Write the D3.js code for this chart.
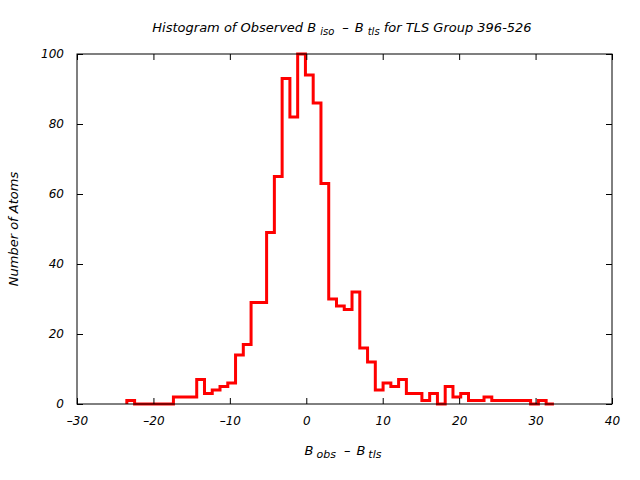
<!DOCTYPE html>
<html>
<head>
<meta charset="utf-8">
<script src="https://cdn.jsdelivr.net/npm/d3@7"></script>
<style>
  body { margin: 0; background: #fff; }
  text { font-family: "DejaVu Sans", sans-serif; font-style: italic; }
</style>
</head>
<body>
<div id="chart"></div>
<script>
// histogram bins: start of first bin, bin width, and atom counts per bin
const binStart = -23.48;
const binWidth = 1.016;
const counts = [1, 0, 0, 0, 0, 0, 2, 2, 2, 7, 3, 4, 5, 6, 14, 17, 29, 29, 49, 65,
  93, 82, 100, 94, 86, 63, 30, 28, 27, 32, 16, 12, 4, 6, 5, 7, 3, 3, 1, 3,
  0, 5, 2, 3, 1, 1, 2, 1, 1, 1, 1, 1, 0, 1, 0];
const xTicks = [-30, -20, -10, 0, 10, 20, 30, 40];
const yTicks = [0, 20, 40, 60, 80, 100];

const W = 640, H = 480;
const margin = { top: 54, right: 28, bottom: 76, left: 77 };
const width = W - margin.left - margin.right;
const height = H - margin.top - margin.bottom;

const svg = d3.select("#chart").append("svg")
    .attr("width", W)
    .attr("height", H);

const g = svg.append("g")
    .attr("transform", `translate(${margin.left},${margin.top})`);

const x = d3.scaleLinear().domain([-30, 40]).range([0, width]);
const y = d3.scaleLinear().domain([0, 100]).range([height, 0]);

// step outline of the histogram
const edges = counts.map((c, i) => binStart + i * binWidth);
edges.push(binStart + counts.length * binWidth);

let d = `M${x(edges[0])},${y(0)}`;
counts.forEach((c, i) => {
    d += `V${y(c)}H${x(edges[i + 1])}`;
});
d += `V${y(0)}`;

g.append("path")
    .attr("d", d)
    .attr("fill", "none")
    .attr("stroke", "#ff0000")
    .attr("stroke-width", 3)
    .attr("stroke-linejoin", "miter");

// axes (ticks point inward, mirrored on top and right)
const styleAxis = sel => {
    sel.select(".domain").remove();
    sel.selectAll(".tick line").attr("stroke", "#000");
    sel.selectAll("text").attr("font-size", 12).attr("fill", "#000")
        .attr("font-family", "DejaVu Sans").attr("font-style", "italic");
};
const fmt = v => (v < 0 ? "\u2013" : "") + Math.abs(v);

g.append("g")
    .attr("transform", `translate(0,${height})`)
    .call(d3.axisBottom(x).tickValues(xTicks).tickSize(-6).tickPadding(12).tickFormat(fmt))
    .call(styleAxis);

g.append("g")
    .call(d3.axisTop(x).tickValues(xTicks).tickSize(-6).tickFormat(""))
    .call(styleAxis);

g.append("g")
    .call(d3.axisLeft(y).tickValues(yTicks).tickSize(-6).tickPadding(13))
    .call(styleAxis);

g.append("g")
    .attr("transform", `translate(${width},0)`)
    .call(d3.axisRight(y).tickValues(yTicks).tickSize(-6).tickFormat(""))
    .call(styleAxis);

g.append("rect")
    .attr("width", width)
    .attr("height", height)
    .attr("fill", "none")
    .attr("stroke", "#000")
    .attr("stroke-width", 1);

// title
const title = svg.append("text")
    .attr("x", 342)
    .attr("y", 32)
    .attr("text-anchor", "middle")
    .attr("font-size", 13);
title.append("tspan").text("Histogram of Observed B");
title.append("tspan").attr("font-size", 10).attr("dx", 4).attr("dy", 3).text("iso");
title.append("tspan").attr("dx", 8).attr("dy", -3).text("\u2013");
title.append("tspan").attr("dx", 6).text("B");
title.append("tspan").attr("font-size", 10).attr("dx", 4).attr("dy", 3).text("tls");
title.append("tspan").attr("dy", -3).text(" for TLS Group 396-526");

// x label
const xl = svg.append("text")
    .attr("x", 343)
    .attr("y", 455)
    .attr("text-anchor", "middle")
    .attr("font-size", 13);
xl.append("tspan").text("B");
xl.append("tspan").attr("font-size", 11).attr("dx", 3).attr("dy", 3).text("obs");
xl.append("tspan").attr("dx", 8).attr("dy", -3).text("\u2013");
xl.append("tspan").attr("dx", 6).text("B");
xl.append("tspan").attr("font-size", 11).attr("dx", 3).attr("dy", 3).text("tls");

// y label
svg.append("text")
    .attr("transform", "translate(18,229) rotate(-90)")
    .attr("text-anchor", "middle")
    .attr("font-size", 13)
    .text("Number of Atoms");
</script>
</body>
</html>
